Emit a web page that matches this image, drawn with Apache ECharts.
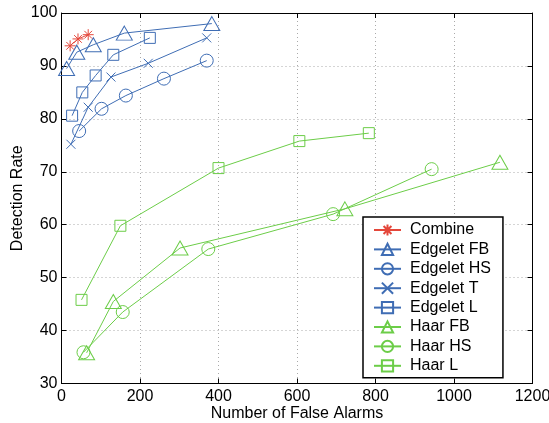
<!DOCTYPE html>
<html>
<head>
<meta charset="utf-8">
<script src="https://cdn.jsdelivr.net/npm/echarts@6/dist/echarts.min.js"></script>
<style>
  html, body { margin: 0; padding: 0; background: #fff; }
  #chart { width: 549px; height: 423px; }
</style>
</head>
<body>
<div id="chart"></div>
<script>
// values: [false alarms, detection rate]
const combine = [[22, 93.8], [42, 95.1], [68, 95.9]];
const edgeletFB = [[13, 89.5], [39, 92.6], [81, 94.0], [160, 96.2], [383, 98.0]];
const edgeletHS = [[45, 77.7], [102, 81.9], [164, 84.4], [261, 87.6], [370, 91.0]];
const edgeletT = [[24, 75.2], [68, 82.2], [126, 87.9], [221, 90.5], [370, 95.3]];
const edgeletL = [[27, 80.6], [53, 85.0], [87, 88.2], [132, 92.1], [225, 95.3]];
const haarFB = [[64, 35.8], [132, 45.5], [302, 55.6], [722, 63.0], [1117, 71.8]];
const haarHS = [[56, 35.9], [156, 43.5], [374, 55.4], [692, 62.0], [943, 70.5]];
const haarL = [[51, 45.8], [150, 59.8], [400, 70.7], [606, 75.8], [783, 77.3]];

const red = "#e4473b";
const blue = "#3f6db4";
const green = "#6ccd48";
const font = "Liberation Sans";

const star = "path://M5,0L5,10M0,5L10,5M1.5,1.5L8.5,8.5M8.5,1.5L1.5,8.5";
const cross = "path://M0,0L10,10M10,0L0,10";

const mk = (name, data, color, symbol, size) => ({
  name: name,
  type: "line",
  data: data,
  symbol: symbol,
  symbolSize: size,
  showSymbol: true,
  lineStyle: { color: color, width: 1 },
  itemStyle: { color: "rgba(0,0,0,0)", borderColor: color, borderWidth: 1 },
  emphasis: { disabled: true },
  animation: false,
});

const chart = echarts.init(document.getElementById("chart"));
const axisCommon = {
  axisLine: { show: true, onZero: false, lineStyle: { color: "#000", width: 1 } },
  axisTick: { show: true, inside: true, length: 5, lineStyle: { color: "#000" } },
};
chart.setOption({
  animation: false,
  grid: { left: 61.5, right: 16.5, top: 13, bottom: 39.5, outerBoundsMode: "none", containLabel: false },
  legend: {
    orient: "vertical",
    left: 363,
    top: 217,
    padding: [5, 12, 4, 10],
    itemWidth: 27,
    itemHeight: 14,
    itemGap: 3.4,
    borderColor: "#000",
    borderWidth: 1.5,
    backgroundColor: "#fff",
    textStyle: { fontFamily: font, fontSize: 16, lineHeight: 16, color: "#000", padding: [0, 0, 0, 4] },
    data: ["Combine", "Edgelet FB", "Edgelet HS", "Edgelet T", "Edgelet L", "Haar FB", "Haar HS", "Haar L"],
  },
  xAxis: [
    Object.assign({
      type: "value", min: 0, max: 1200, interval: 200,
      name: "Number of False Alarms", nameLocation: "middle", nameGap: 22, nameMoveOverlap: false,
      nameTextStyle: { fontFamily: font, fontSize: 16, color: "#000" },
      axisLabel: { fontFamily: font, fontSize: 16, color: "#000", margin: 5, formatter: (v) => String(v) },
      splitLine: { show: true, lineStyle: { color: "#aaa", type: [1, 3] } },
    }, axisCommon),
    Object.assign({
      type: "value", min: 0, max: 1200, interval: 200, position: "top",
      axisLabel: { show: false }, splitLine: { show: false },
    }, axisCommon),
  ],
  yAxis: [
    Object.assign({
      type: "value", min: 30, max: 100, interval: 10,
      name: "Detection Rate", nameLocation: "middle", nameGap: 36, nameMoveOverlap: false,
      nameTextStyle: { fontFamily: font, fontSize: 16, color: "#000" },
      axisLabel: { fontFamily: font, fontSize: 16, color: "#000", margin: 4 },
      splitLine: { show: true, lineStyle: { color: "#aaa", type: [1, 3] } },
    }, axisCommon),
    Object.assign({
      type: "value", min: 30, max: 100, interval: 10, position: "right",
      axisLabel: { show: false }, splitLine: { show: false },
    }, axisCommon),
  ],
  series: [
    mk("Haar L", haarL, green, "rect", 11),
    mk("Haar HS", haarHS, green, "circle", 13),
    mk("Haar FB", haarFB, green, "triangle", [16, 14]),
    mk("Edgelet L", edgeletL, blue, "rect", 11),
    mk("Edgelet T", edgeletT, blue, cross, 9),
    mk("Edgelet HS", edgeletHS, blue, "circle", 13),
    mk("Edgelet FB", edgeletFB, blue, "triangle", [16, 14]),
    mk("Combine", combine, red, star, 11),
  ],
});
</script>
</body>
</html>
